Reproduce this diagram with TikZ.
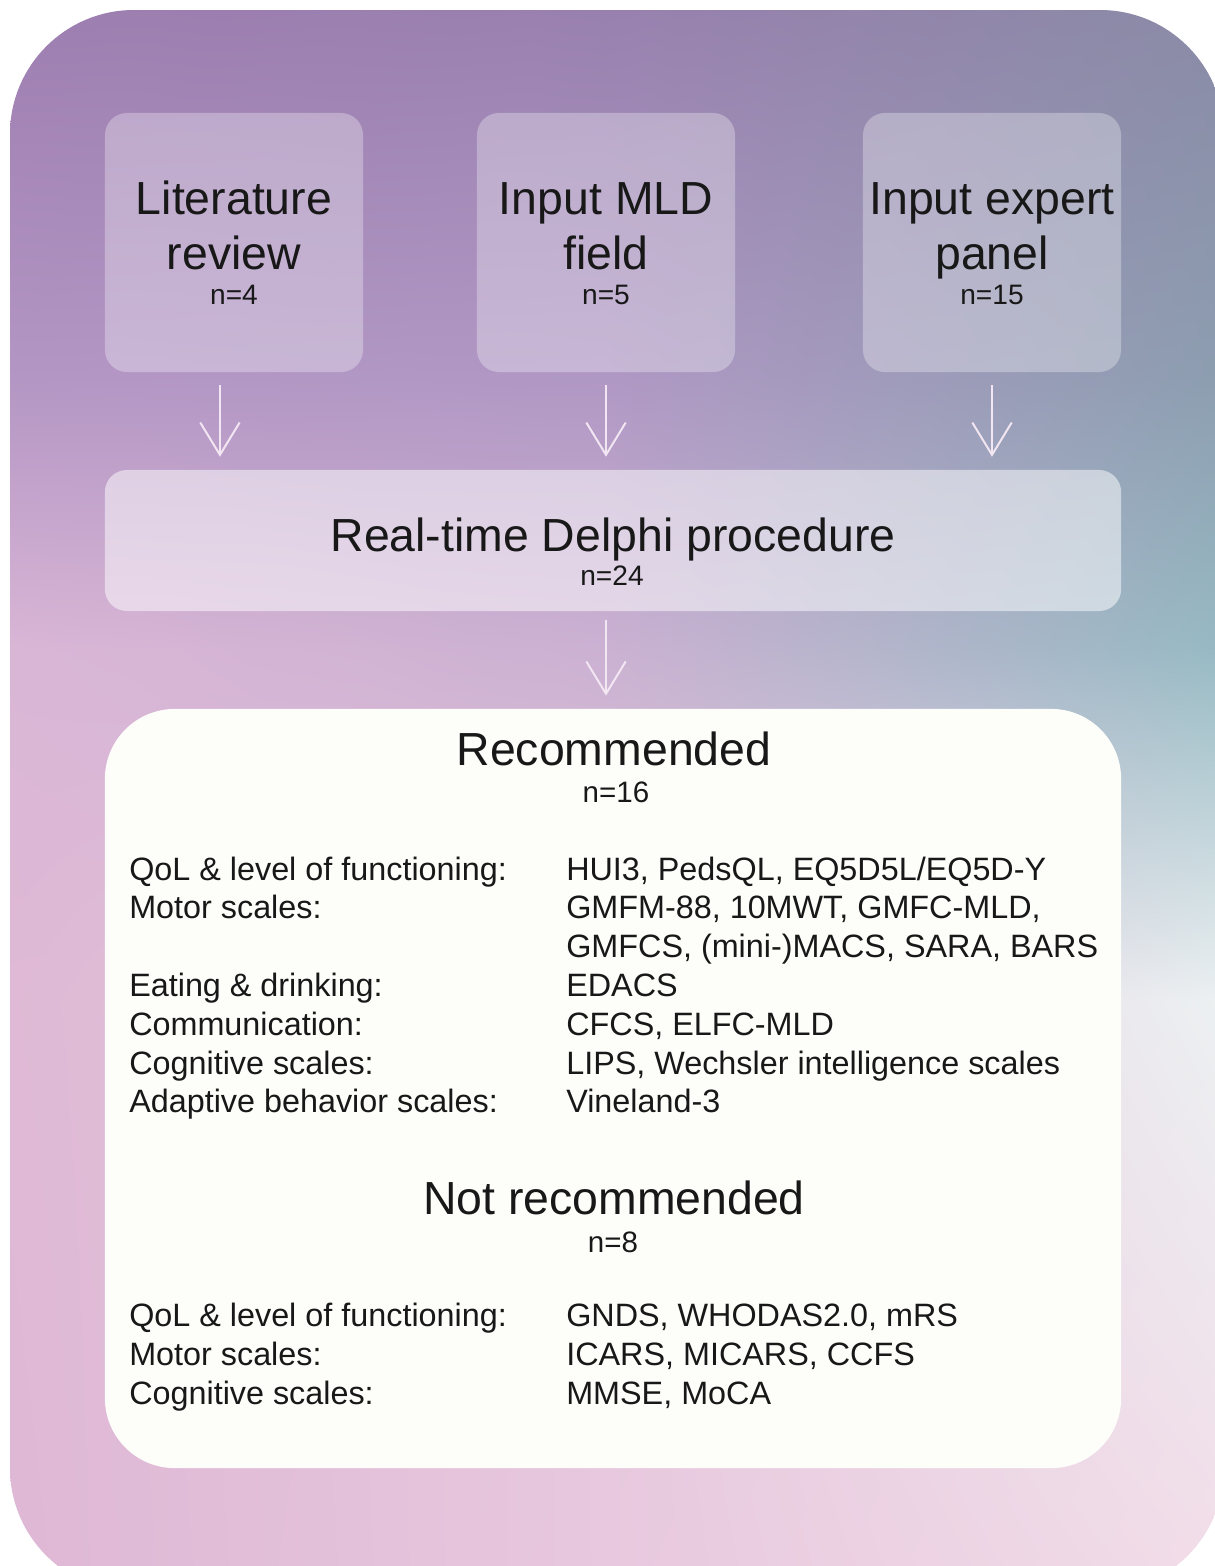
\documentclass[tikz,border=0pt]{standalone}
\usepackage{fontspec}
\setmainfont{Liberation Sans}
\usepackage{xcolor}
\usetikzlibrary{arrows.meta,calc,positioning,shadings}

% background colour grid (rows top to bottom, columns left/middle/right)
\definecolor{g00}{RGB}{157,125,176}
\definecolor{g01}{RGB}{152,128,174}
\definecolor{g02}{RGB}{138,138,166}
\definecolor{g10}{RGB}{180,150,196}
\definecolor{g11}{RGB}{176,152,196}
\definecolor{g12}{RGB}{140,158,176}
\definecolor{g20}{RGB}{218,182,214}
\definecolor{g21}{RGB}{203,177,210}
\definecolor{g22}{RGB}{150,186,195}
\definecolor{g30}{RGB}{223,185,213}
\definecolor{g31}{RGB}{228,200,222}
\definecolor{g32}{RGB}{236,241,242}
\definecolor{g40}{RGB}{222,183,213}
\definecolor{g41}{RGB}{232,200,222}
\definecolor{g42}{RGB}{242,220,232}
\definecolor{boxwhite}{RGB}{253,253,250}
\definecolor{arrowpink}{RGB}{243,230,243}
\definecolor{ink}{RGB}{24,24,24}

\begin{document}
\begin{tikzpicture}[x=0.025cm,y=-0.025cm,>=Latex,
  srcbox/.style={fill=white,fill opacity=0.3,rounded corners=0.55cm,
    minimum width=6.45cm,minimum height=6.475cm,inner sep=0pt},
  bigtxt/.style={anchor=base,inner sep=0pt,text=ink,font=\fontsize{33}{40}\selectfont},
  ntxt/.style={anchor=base,inner sep=0pt,text=ink,font=\fontsize{20}{24}\selectfont},
  hdn/.style={anchor=base,inner sep=0pt,text=ink,font=\fontsize{21}{25}\selectfont},
  listtxt/.style={anchor=base west,inner sep=0pt,text=ink,font=\fontsize{23}{28}\selectfont},
  flow/.style={draw=arrowpink,line width=1.4pt,-{Straight Barb[length=23pt,width=28pt]}}]
\useasboundingbox (0,0) rectangle (1215,1566);
\fill[white] (0,0) rectangle (1215,1566);

% gradient background
\begin{scope}
 \clip[rounded corners=3.1cm] (10,10) rectangle (1224,1592);
 \foreach \ya/\yb/\ra/\rb in {0/380/0/1,380/650/1/2,650/1000/2/3,1000/1600/3/4}
  \foreach \xa/\xb/\ca/\cb in {0/607/0/1,607/1230/1/2}
   \shade[upper left=g\ra\ca,upper right=g\ra\cb,lower left=g\rb\ca,lower right=g\rb\cb]
     (\xa-1,\ya-1) rectangle (\xb+1,\yb+1);
\end{scope}

% sources
\foreach \x/\nm/\la/\lb/\n in {234/lit/Literature/review/4,
                               606/mld/Input MLD/field/5,
                               992/exp/Input expert/panel/15}{
  \node[srcbox] (\nm) at (\x,242.5) {};
  \node[bigtxt] (\nm-a) at (\x,214) {\la};
  \node[bigtxt] (\nm-b) at (\x,269) {\lb};
  \node[ntxt] (\nm-n) at (\x,304) {n=\n};
}

% delphi round
\node[fill=white,fill opacity=0.5,rounded corners=0.55cm,minimum width=25.4cm,
      minimum height=3.525cm,inner sep=0pt] (delphi) at (613,540.5) {};
\node[bigtxt] (delphi-a) at (613,551) {Real-time Delphi procedure};
\node[ntxt] (delphi-n) at (612,585) {n=24};

\draw[flow,shorten <=9.2pt,shorten >=9.2pt] ([xshift=-10pt]lit.south) -- ([xshift=-10pt]lit.south |- delphi.north);
\draw[flow,shorten <=9.2pt,shorten >=9.2pt] (mld.south) -- (mld.south |- delphi.north);
\draw[flow,shorten <=9.2pt,shorten >=9.2pt] (exp.south) -- (exp.south |- delphi.north);

% outcome
\node[fill=boxwhite,rounded corners=1.75cm,minimum width=25.4cm,
      minimum height=18.975cm,inner sep=0pt] (recbox) at (613,1088.5) {};
\draw[flow,shorten <=6.4pt,shorten >=9.2pt] (mld.south |- delphi.south) -- (mld.south |- recbox.north);

\node[bigtxt] (rec) at (614,765) {Recommended};
\node[hdn] (rec-n) at (616,802) {n=16};
\foreach \y/\cat/\tools [count=\i] in {
   880/{QoL \& level of functioning:}/{HUI3, PedsQL, EQ5D5L/EQ5D-Y},
   918.8/{Motor scales:}/{GMFM-88, 10MWT, GMFC-MLD,},
   996.4/{Eating \& drinking:}/{EDACS},
   1035.2/{Communication:}/{CFCS, ELFC-MLD},
   1074/{Cognitive scales:}/{LIPS, Wechsler intelligence scales},
   1112.8/{Adaptive behavior scales:}/{Vineland-3}}{
  \node[listtxt] (rc\i) at (129,\y) {\cat};
  \node[listtxt] (rt\i) at (566,\y) {\tools};
}
\node[listtxt] (rt2b) at (566,957.6) {GMFCS, (mini-)MACS, SARA, BARS};

\node[bigtxt] (notrec) at (614,1214) {Not recommended};
\node[hdn] (notrec-n) at (613,1252) {n=8};
\foreach \y/\cat/\tools [count=\i] in {
   1326.5/{QoL \& level of functioning:}/{GNDS, WHODAS2.0, mRS},
   1365.3/{Motor scales:}/{ICARS, MICARS, CCFS},
   1404/{Cognitive scales:}/{MMSE, MoCA}}{
  \node[listtxt] (nc\i) at (129,\y) {\cat};
  \node[listtxt] (nt\i) at (566,\y) {\tools};
}
\end{tikzpicture}
\end{document}
